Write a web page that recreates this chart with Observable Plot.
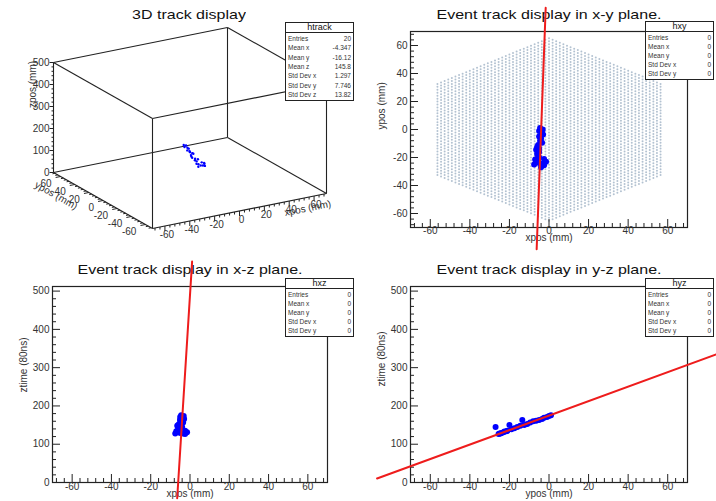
<!DOCTYPE html>
<html><head><meta charset="utf-8">
<script src="https://cdn.jsdelivr.net/npm/d3@7"></script>
<script src="https://cdn.jsdelivr.net/npm/@observablehq/plot@0.6"></script>
<style>
body{margin:0;background:#fff;}
#root{position:relative;width:716px;height:501px;overflow:hidden;font-family:"Liberation Sans",Arial,sans-serif;background:#fff;}
.panel{position:absolute;}
.panel svg{overflow:visible;}
.title{position:absolute;width:300px;margin-left:-150px;text-align:center;font-size:16px;line-height:16px;color:#111;white-space:nowrap;transform:scaleY(0.82);transform-origin:50% 0;}
.stats{position:absolute;background:#fff;border:1px solid #222;box-sizing:border-box;color:#333;display:flex;flex-direction:column;}
.stats .hd{font-size:9px;text-align:center;border-bottom:1px solid #222;line-height:8px;height:9px;color:#111;}
.stats .rows{flex:1;display:flex;flex-direction:column;justify-content:space-around;padding:1px 2px 1px 2px;}
.stats .row{display:flex;justify-content:space-between;font-size:6.5px;line-height:7px;}
</style></head><body><div id="root"></div><script>
// ---------------- data ----------------
const posRange = [-70, 70];          // xpos / ypos axis range (mm)
const zRange2D = [0, 512];           // ztime axis range in 2D views
const zRange3D = [0, 500];           // zpos axis range in 3D view
const posTicks = [-60, -40, -20, 0, 20, 40, 60];
const posMinor = [-68,-64,-56,-52,-48,-44,-36,-32,-28,-24,-16,-12,-8,-4,4,8,12,16,24,28,32,36,44,48,52,56,64,68];
const zTicks = [0, 100, 200, 300, 400, 500];
const zMinor = [20,40,60,80,120,140,160,180,220,240,260,280,320,340,360,380,420,440,460,480];

// track hits (mm, mm, 80ns)
const hitX = [-4.5,-3.2,-5.0,-3.5,-3.0,-5.0,-4.0,-4.5,-3.5,-5.5,-6.0,-5.0,-6.5,-5.0,-6.0,-5.5,-5.0,-7.0,-1.5,-5.0,-7.5,-2.5,-4.0,-6.0,-3.5,-2.5];
const hitY = [1.0,0.0,-1.0,-2.5,-3.5,-5.0,-6.5,-8.0,-9.5,-11.0,-12.5,-13.5,-14.5,-16.0,-17.5,-19.0,-20.0,-21.5,-23.0,-24.0,-25.0,-25.5,-27.0,-22.5,-24.5,-21.0];
const hitZ = [176,174,171,169,166,163,161,160,157,153,150,163,148,145,142,139,150,134,131,129,128,127,145,133,128,135];

// fitted track lines (end points)
const fitXY_x = [-6.24, -1.67], fitXY_y = [-85.5, 86.9];
const fitXZ_x = [-6.52, 1.07],  fitXZ_z = [-41, 577];
const fitYZ_y = [-86.9, 84.5],  fitYZ_z = [10.5, 334.6];

// detector pad plane geometry
const padPitch = 2.1;       // mm
const padHexRadius = 67;    // mm

// titles
const titles = ["3D track display", "Event track display in x-y plane.", "Event track display in x-z plane.", "Event track display in y-z plane."];

// stats boxes
const statsTrack = [["Entries","20"],["Mean x","-4.347"],["Mean y","-16.12"],["Mean z","145.8"],["Std Dev x","1.297"],["Std Dev y","7.746"],["Std Dev z","13.82"]];
const stats2DLabels = ["Entries","Mean x","Mean y","Std Dev x","Std Dev y"];
const stats2DValues = ["0","0","0","0","0"];

// ---------------- build ----------------
const root = document.getElementById("root");
const FONT = "Liberation Sans, Arial, sans-serif";
const INK = "#222";
const TXT = "#333";
const BLUE = "#0000ff";
const RED = "#ee1c1c";

const hits = hitX.map((x, i) => ({x, y: hitY[i], z: hitZ[i]}));
const pads = [];
{
  const colStep = padPitch * Math.sqrt(3) / 2;
  const halfW = padHexRadius * Math.sqrt(3) / 2;
  const n = Math.floor(halfW / colStep);
  for (let i = -n; i <= n; i++) {
    const x = i * colStep;
    const off = (Math.abs(i) % 2) * padPitch / 2;
    const ymax = padHexRadius - Math.abs(x) / Math.sqrt(3);
    for (let j = -40; j <= 40; j++) {
      const y = j * padPitch + off;
      if (Math.abs(y) <= ymax) pads.push({x, y});
    }
  }
}

function addTitle(text, cx, top) {
  const t = document.createElement("div");
  t.className = "title"; t.textContent = text;
  t.style.left = cx + "px"; t.style.top = top + "px";
  root.appendChild(t);
}
addTitle(titles[0], 189, 8);
addTitle(titles[1], 549, 8);
addTitle(titles[2], 190, 263);
addTitle(titles[3], 549, 263);

function place(el, left, top) {
  const d = document.createElement("div");
  d.className = "panel";
  d.style.left = left + "px"; d.style.top = top + "px";
  d.appendChild(el); root.appendChild(d);
}

function statsBox(name, rows, left, top, w, h) {
  const b = document.createElement("div");
  b.className = "stats";
  Object.assign(b.style, {left: left+"px", top: top+"px", width: w+"px", height: h+"px"});
  const hd = document.createElement("div"); hd.className = "hd"; hd.textContent = name; b.appendChild(hd);
  const rs = document.createElement("div"); rs.className = "rows";
  for (const [k, v] of rows) {
    const r = document.createElement("div"); r.className = "row";
    const a = document.createElement("span"); a.textContent = k;
    const c = document.createElement("span"); c.textContent = v;
    r.appendChild(a); r.appendChild(c); rs.appendChild(r);
  }
  b.appendChild(rs); root.appendChild(b);
}

function panel2D(o) {
  const W = o.width - o.mL - o.mR, H = o.height - o.mT - o.mB;
  const fmt = d => String(d);
  return Plot.plot({
    width: o.width, height: o.height,
    marginLeft: o.mL, marginRight: o.mR, marginTop: o.mT, marginBottom: o.mB,
    style: {fontFamily: FONT, fontSize: "10px", background: "transparent", overflow: "visible"},
    x: {domain: posRange, axis: null},
    y: {domain: o.yDomain, axis: null},
    marks: [
      ...(o.under || []),
      Plot.frame({stroke: INK, strokeWidth: 1.2}),
      Plot.tickX(posTicks, {x: d => d, insetTop: H - 8, stroke: INK}),
      Plot.tickX(posMinor, {x: d => d, insetTop: H - 4, stroke: INK}),
      Plot.tickY(o.yTicks, {y: d => d, insetRight: W - 8, stroke: INK}),
      Plot.tickY(o.yMinor, {y: d => d, insetRight: W - 4, stroke: INK}),
      Plot.text(posTicks, {x: d => d, frameAnchor: "bottom", dy: o.xlabDy, text: fmt, fontSize: 10, fill: TXT}),
      Plot.text(o.yTicks, {y: d => d, frameAnchor: "left", dx: -3, textAnchor: "end", text: fmt, fontSize: 10, fill: TXT}),
      Plot.text([o.xLabel], {frameAnchor: "bottom", dy: o.xtitleDy, text: d => d, fontSize: 10, fill: TXT}),
      Plot.text([o.yLabel], {frameAnchor: "left", dx: -29, dy: o.ytitleDy || 0, rotate: -90, text: d => d, fontSize: 10, fill: TXT}),
      ...(o.over || [])
    ]
  });
}

// ---- top-right: x-y plane ----
place(panel2D({
  width: 358, height: 250, mL: 52, mR: 29, mT: 31, mB: 23,
  yDomain: posRange, yTicks: posTicks, yMinor: posMinor,
  xLabel: "xpos (mm)", yLabel: "ypos (mm)",
  xlabDy: 6, xtitleDy: 13.5,
  under: [Plot.dot(pads, {x: "x", y: "y", r: 1.0, fill: "#b3c2d1", stroke: null})],
  over: [
    Plot.dot(hits, {x: "x", y: "y", r: 3, fill: BLUE}),
    Plot.line(fitXY_x.map((x, i) => [x, fitXY_y[i]]), {x: d => d[0], y: d => d[1], stroke: RED, strokeWidth: 2})
  ]
}), 358, 0);

// ---- bottom-left: x-z plane ----
place(panel2D({
  width: 358, height: 251, mL: 52, mR: 31, mT: 36, mB: 19,
  yDomain: zRange2D, yTicks: zTicks, yMinor: zMinor,
  xLabel: "xpos (mm)", yLabel: "ztime (80ns)",
  xlabDy: 7, xtitleDy: 14.5, ytitleDy: 8,
  over: [
    Plot.dot(hits, {x: "x", y: "z", r: 3, fill: BLUE}),
    Plot.line(fitXZ_x.map((x, i) => [x, fitXZ_z[i]]), {x: d => d[0], y: d => d[1], stroke: RED, strokeWidth: 2})
  ]
}), 0, 250);

// ---- bottom-right: y-z plane ----
place(panel2D({
  width: 358, height: 251, mL: 52, mR: 29, mT: 36, mB: 19,
  yDomain: zRange2D, yTicks: zTicks, yMinor: zMinor,
  xLabel: "ypos (mm)", yLabel: "ztime (80ns)",
  xlabDy: 7, xtitleDy: 14.5, ytitleDy: 2,
  over: [
    Plot.dot(hits, {x: "y", y: "z", r: 3, fill: BLUE}),
    Plot.line(fitYZ_y.map((y, i) => [y, fitYZ_z[i]]), {x: d => d[0], y: d => d[1], stroke: RED, strokeWidth: 2})
  ]
}), 358, 250);

// ---- top-left: 3D view ----
{
  const O = [152, 228], XV = [174, -35], YV = [-99, -56], ZV = [0, -110];
  const f = (v, r) => (v - r[0]) / (r[1] - r[0]);
  const P = (x, y, z) => {
    const a = f(x, posRange), b = f(y, posRange), c = f(z, zRange3D);
    return [O[0] + a*XV[0] + b*YV[0] + c*ZV[0], O[1] + a*XV[1] + b*YV[1] + c*ZV[1]];
  };
  const [x0, x1] = posRange, [y0, y1] = posRange, [z0, z1] = zRange3D;
  const edges = [
    [[x0,y0,z0],[x1,y0,z0]],[[x0,y1,z0],[x1,y1,z0]],[[x0,y0,z1],[x1,y0,z1]],[[x0,y1,z1],[x1,y1,z1]],
    [[x0,y0,z0],[x0,y1,z0]],[[x1,y0,z0],[x1,y1,z0]],[[x0,y0,z1],[x0,y1,z1]],[[x1,y0,z1],[x1,y1,z1]],
    [[x0,y0,z0],[x0,y0,z1]],[[x1,y0,z0],[x1,y0,z1]],[[x0,y1,z0],[x0,y1,z1]],[[x1,y1,z0],[x1,y1,z1]]
  ].map(([a, b]) => [P(...a), P(...b)]);
  const tick = (pts, dir, len) => pts.map(p => [p, [p[0] + dir[0]*len, p[1] + dir[1]*len]]);
  const xl = Math.hypot(...XV);
  const ydir = [-XV[0]/xl, -XV[1]/xl];
  const ticks = [
    ...tick(posTicks.map(v => P(v, y0, z0)), [0, 1], 5),
    ...tick(posMinor.map(v => P(v, y0, z0)), [0, 1], 2.5),
    ...tick(posTicks.map(v => P(x0, v, z0)), ydir, 5),
    ...tick(posMinor.map(v => P(x0, v, z0)), ydir, 2.5),
    ...tick(zTicks.map(v => P(x0, y1, v)), [-1, 0], 4),
    ...tick(zMinor.map(v => P(x0, y1, v)), [-1, 0], 2)
  ];
  const lk = (data, opts) => Plot.link(data, {x1: d => d[0][0], y1: d => d[0][1], x2: d => d[1][0], y2: d => d[1][1], ...opts});
  const ax = Math.atan2(XV[1], XV[0]) * 180 / Math.PI;
  const ay = Math.atan2(-YV[1], -YV[0]) * 180 / Math.PI;
  const px = P(55, y0, z0), py = P(x0, 55, z0), pz = P(x0, y1, 400);
  const svg = Plot.plot({
    width: 358, height: 250, margin: 0,
    style: {fontFamily: FONT, fontSize: "10px", background: "transparent", overflow: "visible"},
    x: {type: "identity", axis: null}, y: {type: "identity", axis: null},
    marks: [
      lk(edges, {stroke: INK, strokeWidth: 1.1}),
      lk(ticks, {stroke: INK, strokeWidth: 1}),
      Plot.text(posTicks, {x: v => P(v, y0, z0)[0], y: v => P(v, y0, z0)[1], dx: 2, dy: 9, text: d => String(d), fontSize: 10, fill: TXT}),
      Plot.text(posTicks, {x: v => P(x0, v, z0)[0], y: v => P(x0, v, z0)[1], dx: -9, dy: 7, textAnchor: "end", text: d => String(d), fontSize: 10, fill: TXT}),
      Plot.text(zTicks, {x: v => P(x0, y1, v)[0], y: v => P(x0, y1, v)[1], dx: -4, textAnchor: "end", text: d => String(d), fontSize: 10, fill: TXT}),
      Plot.text(["xpos (mm)"], {x: px[0], y: px[1], dy: 11, rotate: ax, text: d => d, fontSize: 10, fill: TXT}),
      Plot.text(["ypos (mm)"], {x: py[0], y: py[1], dx: -8, dy: 17, rotate: ay, text: d => d, fontSize: 10, fill: TXT}),
      Plot.text(["zpos (mm)"], {x: pz[0], y: pz[1], dx: -21, rotate: -90, text: d => d, fontSize: 10, fill: TXT}),
      Plot.dot(hits, {x: d => P(d.x, d.y, d.z)[0], y: d => P(d.x, d.y, d.z)[1], r: 1.2, fill: BLUE, stroke: null})
    ]
  });
  place(svg, 0, 0);
}

// ---- stats boxes ----
statsBox("htrack", statsTrack, 285, 22, 69, 79);
const st2 = stats2DLabels.map((k, i) => [k, stats2DValues[i]]);
statsBox("hxy", st2, 645, 21, 69, 59);
statsBox("hxz", st2, 285, 278, 69, 59);
statsBox("hyz", st2, 645, 278, 69, 59);
</script></body></html>
